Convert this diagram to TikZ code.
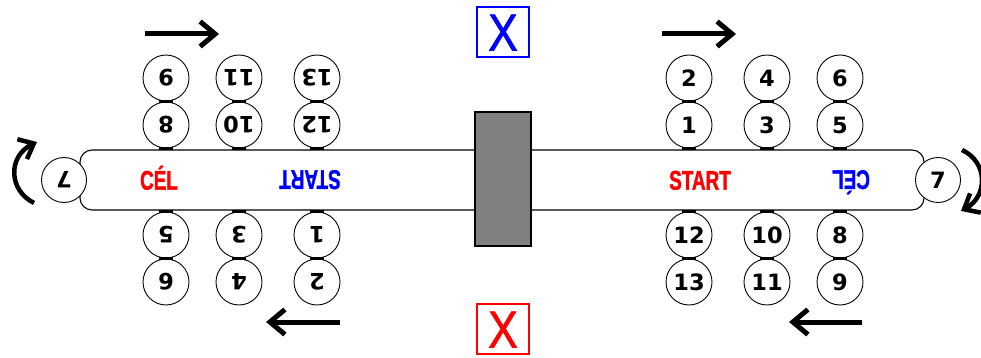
\documentclass[tikz,border=0pt]{standalone}
\usepackage{fontspec}
\usetikzlibrary{arrows.meta,calc}
\newfontfamily\digitfont{DejaVu Sans}
\newfontfamily\labfont{Liberation Sans}[BoldFeatures={FakeBold=1.6}]
\newfontfamily\xfont{Liberation Sans}[FakeBold=1.2]
\definecolor{mkred}{RGB}{255,0,0}
\definecolor{mkblue}{RGB}{0,0,255}
\definecolor{gatefill}{RGB}{128,128,128}

\begin{document}
\begin{tikzpicture}[x=1pt,y=-1pt,
  num/.style={circle,draw,line width=0.9pt,fill=white,minimum size=46pt,inner sep=0pt,
    font=\digitfont\bfseries\fontsize{22.5}{22.5}\selectfont,text height=16.4pt,text depth=0pt},
  flip/.style={rotate=180},
  joint/.style={line width=3pt,line cap=butt},
  bandbox/.style={draw,line width=1.1pt,fill=white,rounded corners=12pt,
    minimum width=844pt,minimum height=60pt,inner sep=0pt},
  gatebox/.style={draw,line width=1.4pt,fill=gatefill,minimum width=56pt,minimum height=134pt,inner sep=0pt},
  xbox/.style={draw=#1,text=#1,line width=1.1pt,minimum width=52pt,minimum height=50pt,inner sep=0pt,
    font=\xfont\fontsize{52}{52}\selectfont,text height=37pt,text depth=0pt},
  word/.style={text=#1,inner sep=0pt,font=\labfont\bfseries\fontsize{27}{27}\selectfont,
    text height=19.3pt,text depth=0pt},
  bigarrow/.style={line width=5pt,-{Straight Barb[length=15pt,width=25pt]}},
  turnarrow/.style={line width=4.5pt,-{Straight Barb[length=13pt,width=22pt]}}
]
\useasboundingbox[fill=white] (0,0) rectangle (981,358);

% track, gate and target boxes
\node[bandbox] (band) at (502,180) {};
\node[gatebox] (gate) at (503,179) {};
\node[xbox=mkblue] (xtop) at (503,32) {\scalebox{0.85}[1]{X}};
\node[xbox=mkred] (xbot) at (503,329) {\scalebox{0.85}[1]{X}};

% labels on the track
\node[word=mkred] (startR) at (700,180) {\scalebox{0.7}[1]{START}};
\node[word=mkblue,flip] (celR) at (851,180) {\scalebox{0.7}[1]{CÉL}};
\node[word=mkred] (celL) at (159,180) {\scalebox{0.7}[1]{CÉL}};
\node[word=mkblue,flip] (startL) at (310,180) {\scalebox{0.7}[1]{START}};

% right-hand stations
\node[num] (r2) at (689,78) {2};
\node[num] (r1) at (689,125) {1};
\node[num] (r4) at (767,78) {4};
\node[num] (r3) at (767,125) {3};
\node[num] (r6) at (840,78) {6};
\node[num] (r5) at (840,125) {5};
\node[num] (r12) at (689,235) {12};
\node[num] (r13) at (689,282) {13};
\node[num] (r10) at (767,235) {10};
\node[num] (r11) at (767,282) {11};
\node[num] (r8) at (840,235) {8};
\node[num] (r9) at (840,282) {9};
\node[num,minimum size=45pt] (r7) at (938,180) {7};

% left-hand stations (upside down)
\node[num,flip] (l13) at (317,78) {13};
\node[num,flip] (l12) at (317,125) {12};
\node[num,flip] (l11) at (239,78) {11};
\node[num,flip] (l10) at (239,125) {10};
\node[num,flip] (l9) at (166,78) {9};
\node[num,flip] (l8) at (166,125) {8};
\node[num,flip] (l1) at (317,235) {1};
\node[num,flip] (l2) at (317,282) {2};
\node[num,flip] (l3) at (239,235) {3};
\node[num,flip] (l4) at (239,282) {4};
\node[num,flip] (l5) at (166,235) {5};
\node[num,flip] (l6) at (166,282) {6};
\node[num,flip,minimum size=45pt] (l7) at (64,180) {7};

% short bars where stations touch each other
\foreach \a/\b in {r2/r1,r4/r3,r6/r5,r12/r13,r10/r11,r8/r9,
                   l13/l12,l11/l10,l9/l8,l1/l2,l3/l4,l5/l6}
  \draw[joint] ($(\a)!0.5!(\b)$) ++(-7,0) -- ++(14,0);
% short bars where stations touch the track
\foreach \a in {r1,r3,r5,l12,l10,l8}
  \draw[joint] (\a |- band.north) ++(-7,-0.5) -- ++(14,0);
\foreach \a in {r12,r10,r8,l1,l3,l5}
  \draw[joint] (\a |- band.south) ++(-7,0.5) -- ++(14,0);

% direction arrows
\coordinate (tlA) at (145,34);  \coordinate (tlB) at (219,34);
\coordinate (trA) at (662,34);  \coordinate (trB) at (736,34);
\coordinate (blA) at (340,322); \coordinate (blB) at (266,322);
\coordinate (brA) at (862,322); \coordinate (brB) at (789,322);
\draw[bigarrow] (tlA) -- (tlB);
\draw[bigarrow] (trA) -- (trB);
\draw[bigarrow] (blA) -- (blB);
\draw[bigarrow] (brA) -- (brB);

% turning arrows at the ends of the track
\coordinate (ltA) at (34,203); \coordinate (ltB) at (37,142);
\coordinate (rtA) at (962,150); \coordinate (rtB) at (961,211);
\draw[turnarrow] (ltA) .. controls (8,190) and (8,156) .. (ltB);
\draw[turnarrow] (rtA) .. controls (988,162) and (988,196) .. (rtB);
\end{tikzpicture}
\end{document}
